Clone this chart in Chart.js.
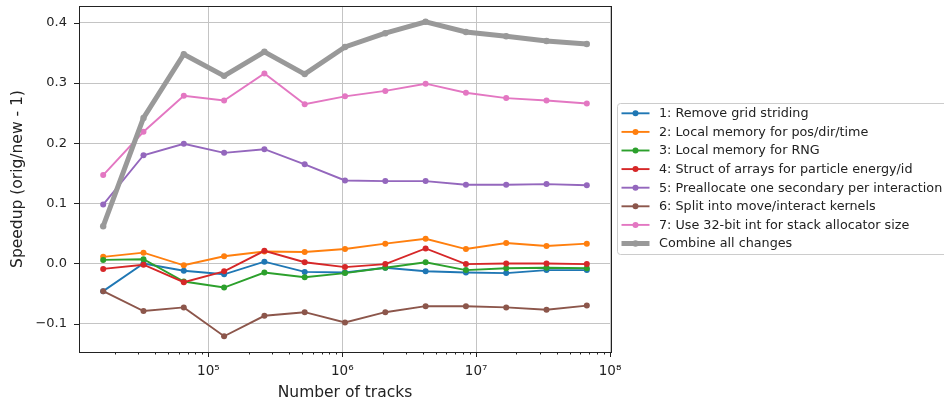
<!DOCTYPE html>
<html><head><meta charset="utf-8">
<script src="https://cdn.jsdelivr.net/npm/chart.js@4/dist/chart.umd.min.js"></script>
<style>html,body{margin:0;padding:0;background:#fff;}#wrap{width:944px;height:405px;position:relative;}</style>
</head><body><div id="wrap"><canvas id="c" width="944" height="405"></canvas></div>
<script>
// ---- data ----
const tracks = [16384, 32768, 65536, 131072, 262144, 524288, 1048576, 2097152, 4194304, 8388608, 16777216, 33554432, 67108864];
const removeGridStriding = [-0.046, 0.000, -0.012, -0.018, 0.003, -0.014, -0.015, -0.007, -0.013, -0.015, -0.016, -0.011, -0.011];
const localMemPosDirTime = [0.011, 0.018, -0.003, 0.012, 0.020, 0.019, 0.024, 0.033, 0.041, 0.024, 0.034, 0.029, 0.033];
const localMemRng = [0.006, 0.007, -0.030, -0.040, -0.015, -0.023, -0.016, -0.007, 0.002, -0.011, -0.008, -0.007, -0.008];
const structOfArrays = [-0.009, -0.002, -0.031, -0.013, 0.021, 0.002, -0.006, -0.001, 0.025, -0.001, 0.000, 0.000, -0.001];
const preallocSecondary = [0.098, 0.180, 0.199, 0.184, 0.190, 0.165, 0.138, 0.137, 0.137, 0.131, 0.131, 0.132, 0.130];
const splitKernels = [-0.046, -0.079, -0.073, -0.121, -0.087, -0.081, -0.098, -0.081, -0.071, -0.071, -0.073, -0.077, -0.070];
const int32StackSize = [0.147, 0.219, 0.279, 0.271, 0.316, 0.265, 0.278, 0.287, 0.299, 0.284, 0.275, 0.271, 0.266];
const combineAll = [0.062, 0.242, 0.348, 0.312, 0.352, 0.315, 0.360, 0.383, 0.402, 0.385, 0.378, 0.370, 0.365];

const seriesLabels = [
  '1: Remove grid striding',
  '2: Local memory for pos/dir/time',
  '3: Local memory for RNG',
  '4: Struct of arrays for particle energy/id',
  '5: Preallocate one secondary per interaction',
  '6: Split into move/interact kernels',
  '7: Use 32-bit int for stack allocator size',
  'Combine all changes'
];
const seriesValues = [removeGridStriding, localMemPosDirTime, localMemRng, structOfArrays, preallocSecondary, splitKernels, int32StackSize, combineAll];

const xMajorTicks = [1e5, 1e6, 1e7, 1e8];
const xTickLabels = ['10\u2075', '10\u2076', '10\u2077', '10\u2078'];
const yTicks = [-0.1, 0.0, 0.1, 0.2, 0.3, 0.4];
const yTickLabels = ['\u22120.1', '0.0', '0.1', '0.2', '0.3', '0.4'];
const xTitle = 'Number of tracks';
const yTitle = 'Speedup (orig/new - 1)';

// ---- styles ----
const colors = ['#1f77b4', '#ff7f0e', '#2ca02c', '#d62728', '#9467bd', '#8c564b', '#e377c2', '#999999'];
const FONT = "'DejaVu Sans', sans-serif";
const X_MIN = 10808, X_MAX = 1.0172e8, Y_MIN = -0.1472, Y_MAX = 0.4282;

const xAllTicks = [];
for (let e = 4; e <= 8; e++) {
  for (let m = 1; m <= 9; m++) {
    const v = m * Math.pow(10, e);
    if (v >= X_MIN && v <= X_MAX) xAllTicks.push(v);
  }
}
const isMajor = v => xMajorTicks.some(t => Math.abs(t - v) / t < 1e-9);

const datasets = seriesValues.map((vals, i) => {
  const last = i === seriesValues.length - 1;
  return {
    label: seriesLabels[i],
    data: tracks.map((t, j) => ({x: t, y: vals[j]})),
    borderColor: colors[i],
    backgroundColor: colors[i],
    pointBackgroundColor: colors[i],
    pointBorderColor: colors[i],
    borderWidth: last ? 5 : 1.9,
    pointRadius: last ? 3.2 : 3,
    pointBorderWidth: 0,
    tension: 0,
    order: seriesValues.length - 1 - i
  };
});

const framePlugin = {
  id: 'frame',
  afterDatasetsDraw(chart) {
    const ctx = chart.ctx, a = chart.chartArea;
    ctx.save();
    ctx.strokeStyle = '#222';
    ctx.lineWidth = 1;
    const xs = chart.scales.x, ys = chart.scales.y;
    ctx.beginPath();
    xs.ticks.forEach(t => {
      const px = Math.round(xs.getPixelForValue(t.value)) + 0.5;
      const len = isMajor(t.value) ? 5 : 2.5;
      ctx.moveTo(px, a.bottom);
      ctx.lineTo(px, a.bottom + len);
    });
    ys.ticks.forEach(t => {
      const py = Math.round(ys.getPixelForValue(t.value)) + 0.5;
      ctx.moveTo(a.left - 5, py);
      ctx.lineTo(a.left, py);
    });
    ctx.stroke();
    ctx.strokeRect(Math.round(a.left) + 0.5, Math.round(a.top) + 0.5, Math.round(a.right - a.left), Math.round(a.bottom - a.top));
    ctx.restore();
  }
};

const legendPlugin = {
  id: 'customLegend',
  afterDraw(chart) {
    const ctx = chart.ctx;
    const left = 617.5, top = 103.5, h = 151, w = 340, r = 3;
    ctx.save();
    ctx.fillStyle = 'rgba(255,255,255,0.85)';
    ctx.strokeStyle = '#cccccc';
    ctx.lineWidth = 1;
    ctx.beginPath();
    ctx.moveTo(left + r, top);
    ctx.lineTo(left + w - r, top);
    ctx.arcTo(left + w, top, left + w, top + r, r);
    ctx.lineTo(left + w, top + h - r);
    ctx.arcTo(left + w, top + h, left + w - r, top + h, r);
    ctx.lineTo(left + r, top + h);
    ctx.arcTo(left, top + h, left, top + h - r, r);
    ctx.lineTo(left, top + r);
    ctx.arcTo(left, top, left + r, top, r);
    ctx.closePath();
    ctx.fill();
    ctx.stroke();
    const pitch = 18.6, y0 = 113.3;
    chart.data.datasets.forEach((ds, i) => {
      const y = y0 + i * pitch;
      ctx.strokeStyle = ds.borderColor;
      ctx.lineWidth = ds.borderWidth;
      ctx.beginPath();
      ctx.moveTo(621.5, y);
      ctx.lineTo(649.5, y);
      ctx.stroke();
      ctx.fillStyle = ds.borderColor;
      ctx.beginPath();
      ctx.arc(635.5, y, ds.pointRadius, 0, Math.PI * 2);
      ctx.fill();
      ctx.fillStyle = '#222';
      ctx.font = '12.75px ' + FONT;
      ctx.textBaseline = 'middle';
      ctx.textAlign = 'left';
      ctx.fillText(ds.label, 659, y + 0.5);
    });
    ctx.restore();
  }
};

new Chart(document.getElementById('c'), {
  type: 'line',
  data: {datasets},
  options: {
    responsive: false,
    animation: false,
    devicePixelRatio: 1,
    layout: {padding: {left: 0, right: 333, top: 6, bottom: 0}},
    plugins: {legend: {display: false}, tooltip: {enabled: false}},
    scales: {
      x: {
        type: 'logarithmic',
        min: X_MIN, max: X_MAX,
        afterBuildTicks: s => { s.ticks = xAllTicks.map(v => ({value: v, major: isMajor(v)})); },
        afterFit: s => { s.height = 53; s.paddingLeft = 0; s.paddingRight = 0; },
        ticks: {
          autoSkip: false, maxRotation: 0, minRotation: 0, padding: 11,
          color: '#222', font: {family: FONT, size: 13.5},
          callback: function(v) { const k = xMajorTicks.findIndex(t => Math.abs(t - v) / t < 1e-9); return k >= 0 ? xTickLabels[k] : ''; }
        },
        grid: {drawTicks: false, lineWidth: 1, color: c => (c.tick && isMajor(c.tick.value)) ? '#c4c4c4' : 'rgba(0,0,0,0)'},
        border: {display: false},
        title: {display: true, text: xTitle, color: '#222', font: {family: FONT, size: 15.5}, padding: {top: 0, bottom: 3}}
      },
      y: {
        type: 'linear',
        min: Y_MIN, max: Y_MAX,
        afterBuildTicks: s => { s.ticks = yTicks.map(v => ({value: v})); },
        afterFit: s => { s.width = 79; s.paddingTop = 0; s.paddingBottom = 0; },
        ticks: {
          autoSkip: false, padding: 12,
          color: '#222', font: {family: FONT, size: 13},
          callback: function(v) { const k = yTicks.findIndex(t => Math.abs(t - v) < 1e-9); return k >= 0 ? yTickLabels[k] : ''; }
        },
        grid: {drawTicks: false, lineWidth: 1, color: '#c4c4c4'},
        border: {display: false},
        title: {display: true, text: yTitle, color: '#222', font: {family: FONT, size: 15.5}, padding: {top: 9, bottom: 0}}
      }
    }
  },
  plugins: [framePlugin, legendPlugin]
});
</script>
</body></html>
